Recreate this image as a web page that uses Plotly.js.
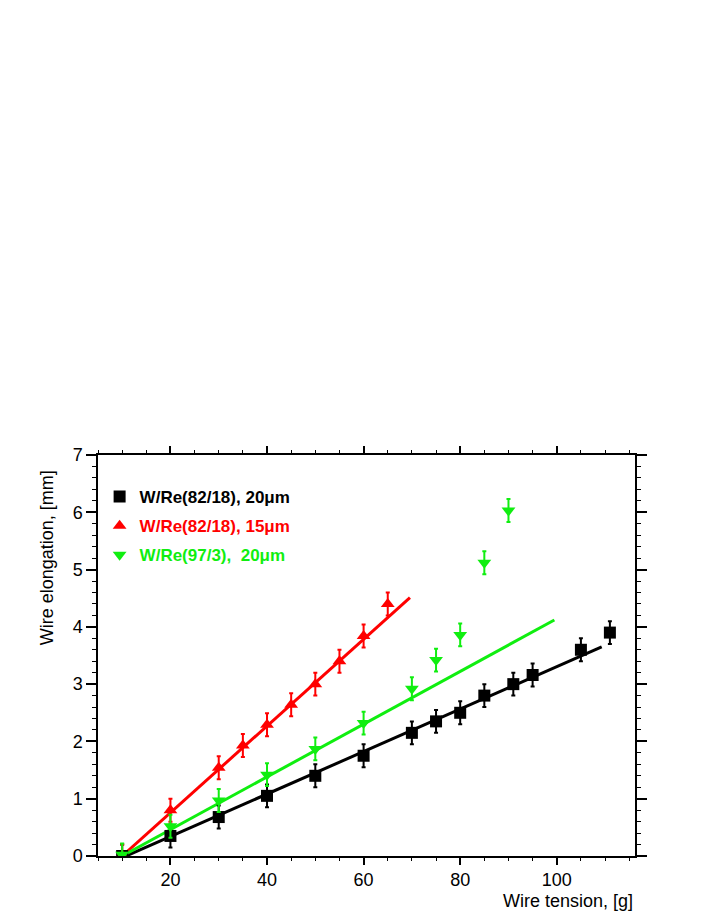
<!DOCTYPE html>
<html>
<head>
<meta charset="utf-8">
<script src="https://cdn.plot.ly/plotly-3.0.1.min.js"></script>
<style>
  body { margin: 0; background: #fff; }
  #graph-div { width: 706px; height: 913px; }
</style>
</head>
<body>
<div id="graph-div"></div>
<script>
// W/Re(82/18), 20um
var blackX = [10, 20, 30, 40, 50, 60, 70, 75, 80, 85, 91, 95, 105, 111];
var blackY = [0, 0.35, 0.68, 1.05, 1.4, 1.75, 2.15, 2.35, 2.5, 2.8, 3.0, 3.16, 3.6, 3.9];
var blackErr = [0.2, 0.2, 0.2, 0.2, 0.2, 0.2, 0.2, 0.2, 0.2, 0.2, 0.2, 0.2, 0.2, 0.2];
var blackFitX = [10, 109.3];
var blackFitY = [-0.03, 3.65];

// W/Re(82/18), 15um
var redX = [10, 20, 30, 35, 40, 45, 50, 55, 60, 65];
var redY = [0, 0.8, 1.54, 1.93, 2.29, 2.64, 3.0, 3.4, 3.84, 4.4];
var redErr = [0.2, 0.2, 0.2, 0.2, 0.2, 0.2, 0.2, 0.2, 0.2, 0.2];
var redFitX = [10, 69.6];
var redFitY = [0, 4.51];

// W/Re(97/3), 20um
var greenX = [10, 20, 30, 40, 50, 60, 70, 75, 80, 85, 90];
var greenY = [0.02, 0.52, 0.97, 1.42, 1.87, 2.32, 2.92, 3.42, 3.86, 5.12, 6.03];
var greenErr = [0.2, 0.2, 0.2, 0.2, 0.2, 0.2, 0.2, 0.2, 0.2, 0.2, 0.2];
var greenFitX = [10, 99.5];
var greenFitY = [0, 4.12];

var names = ["W/Re(82/18), 20μm", "W/Re(82/18), 15μm", "W/Re(97/3),&nbsp; 20μm"];
var colors = ["#000000", "#ff0000", "#10ee10"];
var symbols = ["square", "triangle-up", "triangle-down"];
var xTicks = [20, 40, 60, 80, 100];

var sets = [
  {x: blackX, y: blackY, e: blackErr, fx: blackFitX, fy: blackFitY},
  {x: redX, y: redY, e: redErr, fx: redFitX, fy: redFitY},
  {x: greenX, y: greenY, e: greenErr, fx: greenFitX, fy: greenFitY}
];

var traces = [];
for (let i = 0; i < sets.length; ++i) {
  traces.push({
    x: sets[i].fx, y: sets[i].fy, mode: "lines", showlegend: false,
    line: {color: colors[i], width: 3}, hoverinfo: "skip"
  });
}
for (let i = 0; i < sets.length; ++i) {
  traces.push({
    x: sets[i].x, y: sets[i].y, mode: "markers", name: names[i],
    legendgroup: "g" + i,
    marker: {symbol: symbols[i], color: colors[i], size: 12},
    error_y: {type: "data", array: sets[i].e, visible: true, color: colors[i], thickness: 2, width: 2}
  });
}

var axisFont = {family: "Liberation Sans, Arial, sans-serif", size: 18, color: "#000"};
var xr = [5, 116.2];
var yr = [0, 7];

var layout = {
  width: 706, height: 913,
  margin: {l: 98, r: 71, t: 455, b: 57},
  paper_bgcolor: "#fff", plot_bgcolor: "#fff",
  showlegend: true,
  legend: {
    x: 0.003, y: 0.94, xanchor: "left", yanchor: "top",
    bgcolor: "rgba(0,0,0,0)", tracegroupgap: 4,
    font: {family: "Liberation Sans, Arial, sans-serif", size: 17, weight: "bold"},
    itemwidth: 30
  },
  xaxis: {
    range: xr, showgrid: false, zeroline: false,
    showline: true, linecolor: "#000", linewidth: 1.5, mirror: "ticks",
    ticks: "outside", ticklen: 7, tickwidth: 1.5, tickcolor: "#000",
    tickmode: "array", tickvals: xTicks, tickfont: axisFont
  },
  yaxis: {
    range: yr, showgrid: false, zeroline: false,
    showline: true, linecolor: "#000", linewidth: 1.5, mirror: "ticks",
    ticks: "outside", ticklen: 10, tickwidth: 1.5, tickcolor: "#000",
    dtick: 1, tickfont: axisFont
  },
  // minor tick axes laid over the main ones
  xaxis2: {
    range: xr, overlaying: "x", anchor: "y", showgrid: false, zeroline: false,
    showline: false, mirror: "ticks", ticks: "outside", ticklen: 4, tickwidth: 1.2,
    tickcolor: "#000", dtick: 5, tick0: 0, showticklabels: false
  },
  yaxis2: {
    range: yr, overlaying: "y", anchor: "x", showgrid: false, zeroline: false,
    showline: false, mirror: "ticks", ticks: "outside", ticklen: 5, tickwidth: 1.2,
    tickcolor: "#000", dtick: 0.2, tick0: 0, showticklabels: false
  },
  annotations: [
    {text: "Wire elongation, [mm]", xref: "paper", yref: "paper", x: -0.095, y: 0.968,
     xanchor: "center", yanchor: "top", textangle: -90, showarrow: false, font: axisFont},
    {text: "Wire tension, [g]", xref: "paper", yref: "paper", x: 1.0, y: -0.112,
     xanchor: "right", yanchor: "middle", showarrow: false, font: axisFont}
  ]
};

// empty trace so the minor tick axes are drawn
traces.push({x: [], y: [], xaxis: "x2", yaxis: "y2", showlegend: false, hoverinfo: "skip"});

Plotly.newPlot(document.getElementById("graph-div"), traces, layout, {displayModeBar: false});

// colour each legend label like its series
var gd = document.getElementById("graph-div");
var lt = gd.querySelectorAll(".legendtext");
for (let i = 0; i < lt.length; ++i) {
  lt[i].style.fill = colors[i];
}
</script>
</body>
</html>
